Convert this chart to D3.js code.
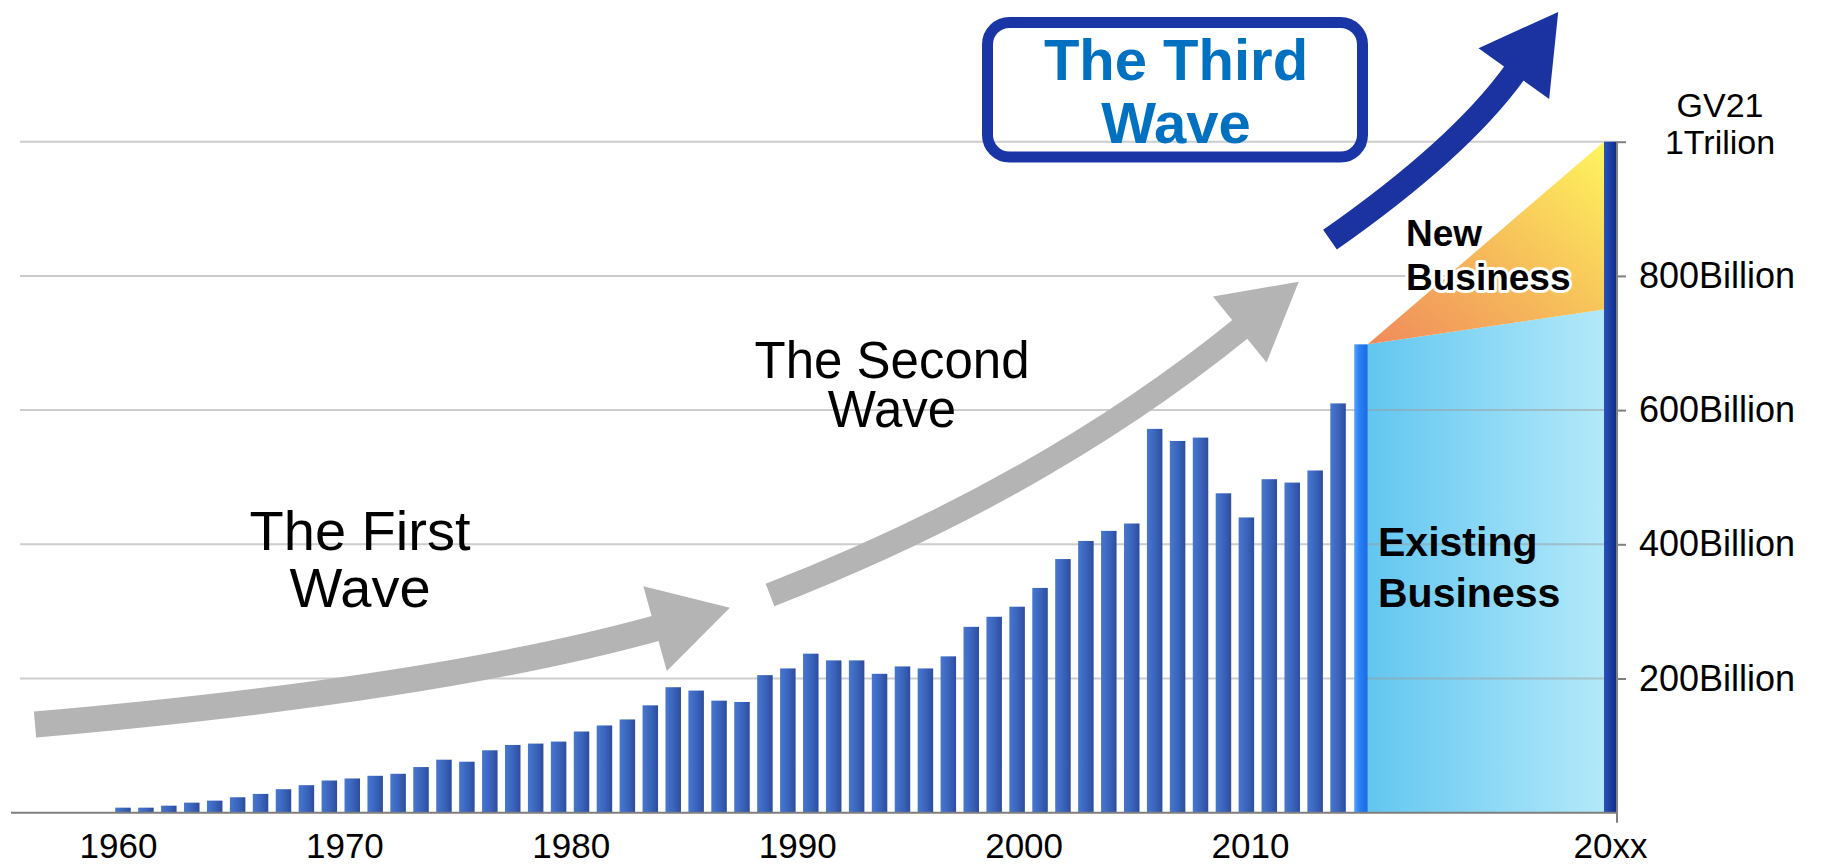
<!DOCTYPE html>
<html>
<head>
<meta charset="utf-8">
<script src="https://cdn.jsdelivr.net/npm/d3@7"></script>
<style>
  html, body { margin: 0; padding: 0; background: #ffffff; }
  svg { display: block; }
  text { font-family: "Liberation Sans", Arial, sans-serif; }
</style>
</head>
<body>
<svg id="chart" width="1823" height="864"></svg>
<script>
// ---- data -------------------------------------------------------------
// Annual market size, billions, 1960-2013
const years = d3.range(1960, 2014);
const marketValues = [
  7.5, 7.5, 10.5, 15, 18, 23, 28, 35, 41, 48,
  51, 55, 58, 68, 79, 76, 93, 101, 103, 106,
  121, 130, 139, 160, 187, 182, 167, 165, 205, 215,
  237, 227, 227, 207, 218, 215, 233, 277, 292, 307,
  335, 378, 405, 420, 431, 572, 554, 559, 476, 440,
  497, 492, 510, 610
];
// Latest year, highlighted
const latestYear = 2014;
const latestValue = 698;
// Target year split
const targetLabel = "20xx";
const existingTarget = 750;
const totalTarget = 1000;

const xTickYears = [1960, 1970, 1980, 1990, 2000, 2010];
const yTickValues = [200, 400, 600, 800];
const yTickLabels = ["200Billion", "400Billion", "600Billion", "800Billion"];
const topLabelLines = ["GV21", "1Trilion"];

const waveLabels = {
  first: ["The First", "Wave"],
  second: ["The Second", "Wave"],
  third: ["The Third", "Wave"]
};
const segmentLabels = { existing: ["Existing", "Business"], added: ["New", "Business"] };

// ---- layout -----------------------------------------------------------
const svg = d3.select("#chart");
const plotLeft = 20, axisX = 1617;
const barW = 15.5, latestW = 13.5, targetW = 13;

const x = d3.scaleLinear().domain([1960, latestYear]).range([123, 1361]);
const xLabel = d3.scaleLinear().domain([1960, 2010]).range([118, 1250]);
const y = d3.scaleLinear().domain([0, totalTarget]).range([812.7, 141.7]);

const defs = svg.append("defs");
function hGrad(id, stops, x1 = "0%", y1 = "0%", x2 = "100%", y2 = "0%") {
  const g = defs.append("linearGradient").attr("id", id)
    .attr("x1", x1).attr("y1", y1).attr("x2", x2).attr("y2", y2);
  stops.forEach(([o, c]) => g.append("stop").attr("offset", o).attr("stop-color", c));
}
hGrad("barGrad", [["0%", "#4777cf"], ["55%", "#3a63ba"], ["100%", "#2c4d9f"]]);
hGrad("latestGrad", [["0%", "#52a2fb"], ["40%", "#2a7ff2"], ["100%", "#176be6"]]);
hGrad("targetGrad", [["0%", "#2a52bb"], ["50%", "#1b3ea3"], ["100%", "#0f2a87"]]);
hGrad("existGrad", [["0%", "#62c6f0"], ["55%", "#8fdaf6"], ["100%", "#b2e9f9"]]);
hGrad("newGrad", [["0%", "#f08a5c"], ["50%", "#f6bd5a"], ["100%", "#fff55e"]], "0%", "100%", "100%", "0%");

// ---- target-year areas --------------------------------------------------
const areaLeft = x(latestYear) + latestW / 2;
const targetLeft = axisX - targetW;

svg.append("path")
  .attr("d", d3.line()([
    [areaLeft, y(0)], [areaLeft, y(latestValue)],
    [targetLeft, y(existingTarget)], [targetLeft, y(0)]
  ]) + "Z")
  .attr("fill", "url(#existGrad)");

// ---- gridlines ----------------------------------------------------------
svg.append("g").selectAll("line").data(yTickValues.concat([totalTarget])).join("line")
  .attr("x1", plotLeft).attr("x2", axisX)
  .attr("y1", d => y(d)).attr("y2", d => y(d))
  .attr("stroke", "#9c9c9c").attr("stroke-opacity", 0.5).attr("stroke-width", 2);

svg.append("path")
  .attr("d", d3.line()([
    [areaLeft, y(latestValue)], [targetLeft, y(totalTarget)],
    [targetLeft, y(existingTarget)]
  ]) + "Z")
  .attr("fill", "url(#newGrad)");

// ---- bars ---------------------------------------------------------------
svg.append("g").selectAll("rect").data(years.map((yr, i) => ({ yr, v: marketValues[i] }))).join("rect")
  .attr("x", d => x(d.yr) - barW / 2)
  .attr("width", barW)
  .attr("y", d => y(d.v))
  .attr("height", d => y(0) - y(d.v))
  .attr("fill", "url(#barGrad)");

svg.append("rect")
  .attr("x", x(latestYear) - latestW / 2).attr("width", latestW)
  .attr("y", y(latestValue)).attr("height", y(0) - y(latestValue))
  .attr("fill", "url(#latestGrad)");

svg.append("rect")
  .attr("x", targetLeft).attr("width", targetW)
  .attr("y", y(totalTarget)).attr("height", y(0) - y(totalTarget))
  .attr("fill", "url(#targetGrad)");

// ---- axes ---------------------------------------------------------------
svg.append("line")
  .attr("x1", 11).attr("x2", axisX).attr("y1", y(0)).attr("y2", y(0))
  .attr("stroke", "#7f7f7f").attr("stroke-width", 2);

const yAxis = d3.axisRight(y)
  .tickValues(yTickValues.concat([totalTarget]))
  .tickSize(9)
  .tickFormat(() => "");
const yg = svg.append("g").attr("transform", `translate(${axisX},0)`).call(yAxis);
yg.select(".domain").attr("stroke", "#7f7f7f").attr("stroke-width", 2)
  .attr("d", `M0,${y(totalTarget)}V${y(0) + 10}`);
yg.selectAll(".tick line").attr("stroke", "#7f7f7f").attr("stroke-width", 2);

svg.append("g").selectAll("text").data(yTickValues).join("text")
  .attr("x", 1639)
  .attr("y", d => y(d) + 12)
  .attr("font-size", 36)
  .attr("fill", "#000")
  .text((d, i) => yTickLabels[i]);

svg.append("g").selectAll("text").data(topLabelLines).join("text")
  .attr("x", 1720).attr("y", (d, i) => 117 + i * 37)
  .attr("text-anchor", "middle").attr("font-size", 34)
  .text(d => d);

const xAxis = d3.axisBottom(xLabel).tickValues(xTickYears).tickSize(0).tickFormat(d3.format("d"));
const xg = svg.append("g").attr("transform", `translate(0,${y(0)})`).call(xAxis);
xg.select(".domain").remove();
xg.selectAll(".tick text")
  .attr("y", 45).attr("dy", 0)
  .attr("font-size", 35).attr("font-family", "'Liberation Sans', Arial, sans-serif")
  .attr("fill", "#000");

svg.append("text")
  .attr("x", axisX - targetW / 2).attr("y", 858)
  .attr("text-anchor", "middle").attr("font-size", 35)
  .text(targetLabel);

// ---- wave arrows --------------------------------------------------------
function curvedArrow(p0, c, p2, width, headLen, headHalf, color) {
  const g = svg.append("g");
  const p = d3.path();
  p.moveTo(p0[0], p0[1]);
  p.quadraticCurveTo(c[0], c[1], p2[0], p2[1]);
  g.append("path").attr("d", p.toString())
    .attr("fill", "none").attr("stroke", color)
    .attr("stroke-width", width).attr("stroke-linecap", "butt");
  const dx = p2[0] - c[0], dy = p2[1] - c[1];
  const L = Math.hypot(dx, dy), ux = dx / L, uy = dy / L;
  const bx = p2[0] - ux * 2, by = p2[1] - uy * 2;
  g.append("path")
    .attr("d", d3.line()([
      [bx - uy * headHalf, by + ux * headHalf],
      [p2[0] + ux * headLen, p2[1] + uy * headLen],
      [bx + uy * headHalf, by - ux * headHalf]
    ]) + "Z")
    .attr("fill", color);
}
curvedArrow([35, 724.5], [434, 689.8], [657, 628], 26, 75.6, 44, "#b4b4b4");
curvedArrow([770, 595], [1044.7, 487.9], [1241.3, 328.3], 24, 74, 42.5, "#b4b4b4");
curvedArrow([1330, 239.7], [1459.7, 148.9], [1515, 72], 24, 74, 43.5, "#1a33a1");

// ---- wave labels --------------------------------------------------------
function block(lines, cx, y0, lh, size, opts = {}) {
  const t = svg.append("text")
    .attr("text-anchor", opts.anchor || "middle")
    .attr("font-size", size)
    .attr("font-weight", opts.weight || "normal")
    .attr("fill", opts.fill || "#000");
  if (opts.halo) {
    t.attr("stroke", "#ffffff").attr("stroke-width", opts.halo)
     .attr("stroke-linejoin", "round").attr("paint-order", "stroke");
  }
  lines.forEach((s, i) => t.append("tspan").attr("x", cx).attr("y", y0 + i * lh).text(s));
  return t;
}
block(waveLabels.first, 360, 550, 57, 56);
block(waveLabels.second, 892, 378, 49, 51);

svg.append("rect")
  .attr("x", 987.5).attr("y", 22.5).attr("width", 375).attr("height", 134.5)
  .attr("rx", 22).attr("fill", "none")
  .attr("stroke", "#1a35a6").attr("stroke-width", 11);
block(waveLabels.third, 1176, 80, 63, 58, { weight: "bold", fill: "#0070c0" });

block(segmentLabels.added, 1406, 246, 44, 37, { anchor: "start", weight: "bold", halo: 6 });
block(segmentLabels.existing, 1378, 556, 50.5, 41, { anchor: "start", weight: "bold" });
</script>
</body>
</html>
